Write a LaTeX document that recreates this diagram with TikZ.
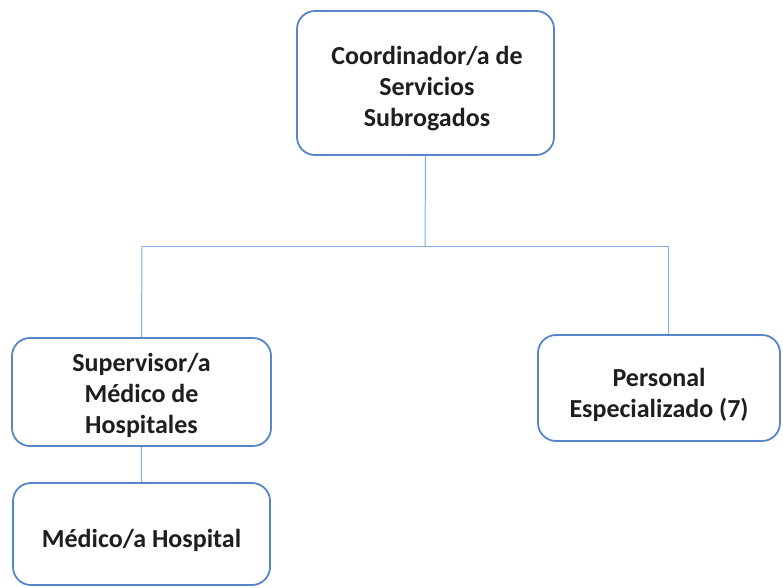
\documentclass[tikz,border=0pt]{standalone}
\usepackage{fontspec}
\setmainfont{Carlito}
\definecolor{boxblue}{RGB}{84,134,200}
\definecolor{lineblue}{RGB}{130,175,225}
\definecolor{txt}{RGB}{30,30,30}
\begin{document}
\begin{tikzpicture}[x=1pt,y=-1pt,
  orgbox/.style={draw=boxblue,line width=1.8pt,rounded corners=18pt,inner sep=0pt},
  orgtext/.style={align=center,font=\fontsize{26}{31}\selectfont\bfseries,text=txt,inner sep=0pt},
  conn/.style={draw=lineblue,line width=1pt}]
\useasboundingbox (0,0) rectangle (783,587);
\node[orgbox,minimum width=257pt,minimum height=144pt] (coord) at (425.5,83) {};
\node[orgtext] (coordT) at (427,89) {Coordinador/a de\\Servicios\\Subrogados};
\node[orgbox,minimum width=259pt,minimum height=108pt] (sup) at (141.5,392) {};
\node[orgtext] (supT) at (141.5,395) {Supervisor/a\\Médico de\\Hospitales};
\node[orgbox,minimum width=257pt,minimum height=102pt] (med) at (141.5,534) {};
\node[orgtext] (medT) at (141.5,540) {Médico/a Hospital};
\node[orgbox,minimum width=242pt,minimum height=106pt] (pers) at (659,388) {};
\node[orgtext] (persT) at (659,395) {Personal\\Especializado (7)};
\coordinate (jn) at (425,246);
\coordinate (jl) at (142,246);
\coordinate (jr) at (668,246);
\draw[conn] (coord.south) -- (jn);
\draw[conn] (jl) -- (jr);
\draw[conn] (jl) -- (sup.north);
\draw[conn] (jr) -- (jr |- pers.north);
\draw[conn] (sup.south) -- (med.north);
\end{tikzpicture}
\end{document}
